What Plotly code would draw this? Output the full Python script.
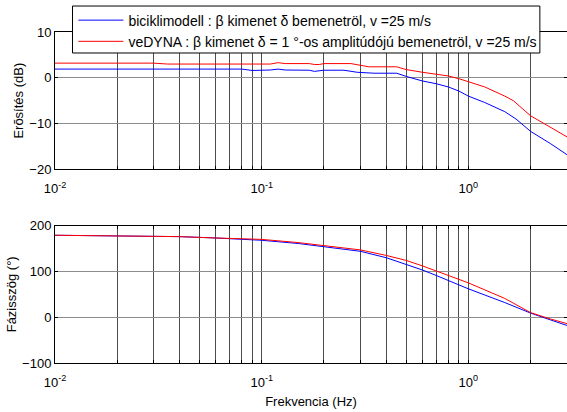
import math
import plotly.graph_objects as go
from plotly.subplots import make_subplots

# ---- data ----
mag_freq_blue = [0.01, 0.02, 0.04, 0.08, 0.09, 0.1, 0.11, 0.12, 0.13, 0.17, 0.18, 0.2, 0.25, 0.29,
                 0.35, 0.45, 0.5, 0.6, 0.7, 0.8, 0.9, 1.0, 1.2, 1.5, 1.7, 2.0, 2.5, 3.0]
mag_blue = [1.9, 1.9, 1.9, 1.9, 1.6, 1.6, 1.7, 1.9, 1.7, 1.65, 1.4, 1.65, 1.65, 1.2,
            1.0, 1.0, 0.3, -0.7, -1.3, -2.0, -2.9, -4.0, -5.4, -7.4, -9.0, -11.7, -14.4, -16.8]

mag_freq_red = [0.01, 0.03, 0.035, 0.11, 0.12, 0.13, 0.17, 0.18, 0.19, 0.2, 0.27, 0.3, 0.33,
                0.45, 0.5, 0.6, 0.7, 0.8, 0.9, 1.0, 1.2, 1.5, 1.65, 2.0, 2.5, 3.0]
mag_red = [3.2, 3.2, 3.0, 3.0, 3.3, 3.1, 3.1, 2.9, 2.9, 3.1, 3.1, 2.7, 2.4,
           2.4, 1.8, 1.2, 0.8, 0.4, -0.2, -0.8, -2.0, -4.0, -5.0, -8.3, -10.8, -12.9]

phase_freq = [0.01, 0.02, 0.04, 0.06, 0.08, 0.1, 0.15, 0.2, 0.3, 0.4, 0.5, 0.6, 0.7, 0.8,
              0.9, 1.0, 1.5, 2.0, 2.5, 3.0]
phase_blue = [179, 178, 176, 173, 171, 168, 161, 154, 144, 130, 116, 103, 91, 80,
              71, 62, 32, 9, -6, -18]
phase_red = [179, 178, 176, 173, 171, 170, 163, 157, 147, 135, 124, 112, 101, 91,
             82, 75, 41, 10, -4, -14]

x_major_vals = [0.01, 0.1, 1]
x_major_text = ["10<sup>-2</sup>", "10<sup>-1</sup>", "10<sup>0</sup>"]
x_minor_vals = [m * 10 ** e for e in (-2, -1, 0) for m in range(2, 10)]
mag_ticks = [-20, -10, 0, 10]
phase_ticks = [-100, 0, 100, 200]

name_blue = "biciklimodell : \u03b2 kimenet \u03b4 bemenetröl, v =25 m/s"
name_red = "veDYNA : \u03b2 kimenet \u03b4 = 1 °-os amplitúdójú bemenetröl, v =25 m/s"

FONT = "Liberation Sans, Arial, sans-serif"

fig = make_subplots(rows=2, cols=1, vertical_spacing=0.17)

fig.add_trace(go.Scatter(x=mag_freq_blue, y=mag_blue, mode="lines", name=name_blue,
                         line=dict(color="#0000ff", width=1)), row=1, col=1)
fig.add_trace(go.Scatter(x=mag_freq_red, y=mag_red, mode="lines", name=name_red,
                         line=dict(color="#ff0000", width=1)), row=1, col=1)
fig.add_trace(go.Scatter(x=phase_freq, y=phase_blue, mode="lines", showlegend=False,
                         line=dict(color="#0000ff", width=1)), row=2, col=1)
fig.add_trace(go.Scatter(x=phase_freq, y=phase_red, mode="lines", showlegend=False,
                         line=dict(color="#ff0000", width=1)), row=2, col=1)

GRIDX = "#4d4d4d"
xcommon = dict(type="log", range=[-2, math.log10(3)], tickmode="array",
               tickvals=x_major_vals, ticktext=x_major_text,
               showgrid=True, gridcolor=GRIDX, gridwidth=1,
               ticks="inside", ticklen=3, tickcolor="#000",
               minor=dict(tickmode="array", tickvals=x_minor_vals, showgrid=True,
                          gridcolor=GRIDX, gridwidth=1, ticks="inside", ticklen=3,
                          tickcolor="#000"),
               showline=True, linecolor="#000", linewidth=1, mirror="ticks",
               zeroline=False, ticklabelstandoff=7, automargin=False,
               tickfont=dict(family=FONT, size=13, color="#000"))
ycommon = dict(tickmode="array", showgrid=True, gridcolor="#8c8c8c", gridwidth=1,
               ticks="inside", ticklen=3, tickcolor="#000",
               showline=True, linecolor="#000", linewidth=1, mirror="ticks",
               zeroline=False, automargin=False,
               tickfont=dict(family=FONT, size=13, color="#000"))

fig.update_xaxes(**xcommon)
fig.update_xaxes(domain=[0, 1], row=1, col=1)
fig.update_xaxes(domain=[0, 1], row=2, col=1,
                 title=dict(text="Frekvencia (Hz)", font=dict(family=FONT, size=13, color="#000"),
                            standoff=8))
fig.update_yaxes(**ycommon)
fig.update_yaxes(range=[-20, 10], tickvals=mag_ticks, domain=[0.585, 1], row=1, col=1,
                 title=dict(text="Erõsítés (dB)", font=dict(family=FONT, size=13, color="#000"),
                            standoff=2))
fig.update_yaxes(range=[-100, 200], tickvals=phase_ticks, domain=[0, 0.415], row=2, col=1,
                 title=dict(text="Fázisszög (°)", font=dict(family=FONT, size=13, color="#000"),
                            standoff=2))

# legend frame
fig.add_shape(type="rect", xref="paper", yref="paper", x0=0.0342, x1=0.947, y0=0.9366, y1=1.0785,
              line=dict(color="#000", width=1), fillcolor="white", layer="above")

fig.update_layout(
    width=567, height=412,
    margin=dict(l=55, r=0, t=32, b=49),
    paper_bgcolor="white", plot_bgcolor="white",
    font=dict(family=FONT, size=13, color="#000"),
    legend=dict(x=0.036, y=1.083, xanchor="left", yanchor="top",
                bgcolor="rgba(0,0,0,0)", borderwidth=0,
                font=dict(family=FONT, size=14, color="#000"),
                itemwidth=45, tracegroupgap=0),
)

fig.write_html("out.html", config={"displayModeBar": False},
               post_script="document.body.style.margin='0';")
